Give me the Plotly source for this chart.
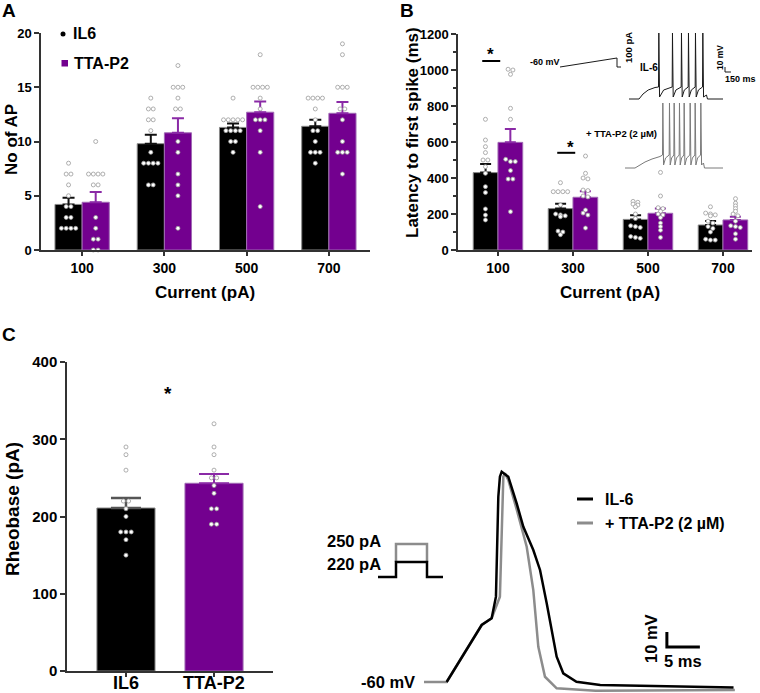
import plotly.graph_objects as go

# ---------------- data ----------------
currents = ["100", "300", "500", "700"]

# Panel A: number of action potentials
ap_il6_mean = [4.2, 9.8, 11.3, 11.4]
ap_il6_sem = [0.62, 0.83, 0.37, 0.6]
ap_tta_mean = [4.4, 10.8, 12.7, 12.6]
ap_tta_sem = [0.95, 1.35, 0.98, 1.04]
ap_il6_points = [[8, 7, 7, 6, 5, 4, 4, 3, 3, 2, 2, 2, 2],
                 [14, 13, 13, 12, 12, 11, 9, 8, 8, 8, 8, 6, 6],
                 [14, 12, 12, 12, 12, 12, 11, 11, 11, 11, 10, 10, 9],
                 [14, 14, 14, 14, 13, 12, 11, 11, 10, 9, 9, 9, 8]]
ap_tta_points = [[10, 7, 7, 7, 7, 6, 6, 3, 2, 1, 1, 0, 0],
                 [17, 15, 15, 15, 14, 13, 13, 10, 9, 7, 6, 5, 2],
                 [18, 15, 15, 15, 15, 14, 13, 12, 12, 12, 11, 9, 4],
                 [19, 18, 15, 15, 15, 13, 13, 12, 10, 9, 9, 9, 7]]

# Panel B: latency to first spike (ms)
lat_il6_mean = [430, 230, 170, 139]
lat_il6_sem = [48, 27, 23, 22]
lat_tta_mean = [598, 293, 204, 167]
lat_tta_sem = [74, 33, 26, 18]
lat_il6_points = [[726, 611, 574, 541, 500, 500, 463, 426, 352, 319, 228, 194, 167],
                  [374, 324, 324, 324, 324, 250, 200, 195, 190, 185, 105, 100, 85],
                  [270, 265, 255, 250, 240, 200, 175, 135, 130, 125, 75, 70, 65],
                  [240, 205, 200, 195, 190, 160, 150, 130, 120, 100, 60, 55, 55]]
lat_tta_points = [[1004, 1000, 976, 787, 726, 504, 491, 491, 441, 394, 394, 213],
                  [522, 426, 400, 395, 333, 330, 300, 295, 222, 205, 194, 122],
                  [431, 300, 235, 230, 215, 200, 195, 180, 150, 130, 110, 70],
                  [285, 260, 245, 230, 215, 200, 190, 160, 135, 130, 125, 90, 60]]
sig_b_level = [1050, 540]      # ms, significance bars
sig_b_group = [0, 1]

# Panel C: rheobase (pA)
rheo_groups = ["IL6", "TTA-P2"]
rheo_mean = [211, 243]
rheo_sem = [13, 12]
rheo_points = [[290, 280, 260, 220, 220, 210, 200, 180, 180, 180, 170, 150],
               [320, 290, 280, 260, 250, 250, 240, 230, 210, 210, 190, 190]]

# Inset (panel B): spike trains (ms, mV)
il6_pre_t = [0, 250, 350, 480, 650, 720]
il6_pre_v = [-60, -60, -50, -42, -37, -35]
il6_spike_t = [742, 1083, 1308, 1483, 1658, 1842]
il6_peak, il6_trough, il6_thr = 72, -56, -36
il6_step_end, train_end = 1937, 2350
tta_pre_t = [-100, 150, 400, 575, 775]
tta_pre_v = [-60, -60, -48, -42, -37]
tta_spike_t = [842, 1008, 1125, 1258, 1375, 1525, 1650, 1792]
tta_peak, tta_trough, tta_thr = 70, -54, -34
tta_step_end = 1862
tta_offset = -138
ramp_t = [-1725, -300, -300, -200]
ramp_pA = [0, 100, 0, 0]

# Panel D: single action potentials (ms, mV)
ap_gray_t = [0, 3.43, 8.74, 10.25, 11.5, 11.87, 12.02, 12.27, 12.77, 14.04, 15.56, 16.56, 17.32, 18.33, 20.1, 26.0, 47.1]
ap_gray_v = [-60, -60, -22, -17.5, -3.1, 63.5, 76.9, 79.1, 74.7, 55, 30.2, 1.3, -36.5, -56.5, -64.2, -65.8, -65.3]
ap_black_t = [3.43, 8.74, 10.25, 10.9, 11.26, 11.5, 11.77, 12.77, 14.04, 15.05, 16.56, 17.58, 18.59, 19.35, 20.1, 21.1, 23.1, 26.7, 46.9]
ap_black_v = [-60, -22, -17.5, -3.1, 63.5, 76.9, 80.2, 76.9, 59.1, 43.5, 28, 14.7, -7.5, -25.3, -43.1, -54.2, -59.8, -62, -63.6]

# ---------------- helpers ----------------
W, H = 760, 693
FONT = "Liberation Sans"
BLACK = "#000000"
PURPLE = "#73008f"
PURPLE_ERR = "#8a2aa6"
GRAY_TRACE = "#8c8c8c"


def px(x):
    return x / W


def py(y):
    return 1 - y / H


def swarm(values, center, spacing, tol):
    vals = sorted(values, reverse=True)
    groups = []
    for v in vals:
        if groups and abs(groups[-1][0] - v) <= tol:
            groups[-1].append(v)
        else:
            groups.append([v])
    xs, ys = [], []
    for g in groups:
        k = len(g)
        for i, v in enumerate(g):
            xs.append(center + (i - (k - 1) / 2) * spacing)
            ys.append(v)
    return xs, ys


def build_train(pre_t, pre_v, spikes, peak, trough, thr, step_end, rest, t_end):
    t, v = list(pre_t), list(pre_v)
    for i, ts in enumerate(spikes):
        t += [ts - 4, ts + 4, ts + 22]
        v += [thr, peak, trough]
        if i + 1 < len(spikes):
            gap = spikes[i + 1] - ts
            t += [ts + 22 + 0.3 * gap, spikes[i + 1] - 10]
            v += [thr - 6, thr]
    t += [step_end, step_end + 25, t_end]
    v += [trough + 4, rest, rest]
    return t, v


fig = go.Figure()

pt_marker = dict(size=4, color="white", line=dict(color="#9a9a9a", width=0.8))

# ---------------- Panel A ----------------
fig.add_bar(x=[0, 1, 2, 3], y=ap_il6_mean, xaxis="x", yaxis="y",
            marker=dict(color=BLACK, line=dict(color="#8a8a8a", width=1)),
            error_y=dict(type="data", array=ap_il6_sem, arrayminus=[0] * 4, symmetric=False,
                         color="#111111", thickness=2, width=6))
fig.add_bar(x=[0, 1, 2, 3], y=ap_tta_mean, xaxis="x", yaxis="y",
            marker=dict(color=PURPLE, line=dict(color="#a06ab4", width=1)),
            error_y=dict(type="data", array=ap_tta_sem, arrayminus=[0] * 4, symmetric=False,
                         color=PURPLE_ERR, thickness=2, width=6))
for i in range(4):
    for pts, off in ((ap_il6_points[i], -0.165), (ap_tta_points[i], 0.165)):
        xs, ys = swarm(pts, i + off, 0.058, 0.1)
        fig.add_scatter(x=xs, y=ys, mode="markers", marker=pt_marker, xaxis="x", yaxis="y",
                        cliponaxis=False, hoverinfo="skip")

# ---------------- Panel B ----------------
fig.add_bar(x=[0, 1, 2, 3], y=lat_il6_mean, xaxis="x2", yaxis="y2",
            marker=dict(color=BLACK, line=dict(color="#8a8a8a", width=1)),
            error_y=dict(type="data", array=lat_il6_sem, arrayminus=[0] * 4, symmetric=False,
                         color="#111111", thickness=2, width=5.5))
fig.add_bar(x=[0, 1, 2, 3], y=lat_tta_mean, xaxis="x2", yaxis="y2",
            marker=dict(color=PURPLE, line=dict(color="#a06ab4", width=1)),
            error_y=dict(type="data", array=lat_tta_sem, arrayminus=[0] * 4, symmetric=False,
                         color=PURPLE_ERR, thickness=2, width=5.5))
for i in range(4):
    for pts, off in ((lat_il6_points[i], -0.167), (lat_tta_points[i], 0.167)):
        xs, ys = swarm(pts, i + off, 0.064, 14)
        fig.add_scatter(x=xs, y=ys, mode="markers", marker=pt_marker, xaxis="x2", yaxis="y2",
                        cliponaxis=False, hoverinfo="skip")
for g, lvl in zip(sig_b_group, sig_b_level):
    fig.add_scatter(x=[g - 0.21, g + 0.03], y=[lvl, lvl], mode="lines",
                    line=dict(color="black", width=2), xaxis="x2", yaxis="y2", hoverinfo="skip")

# Inset spike trains (panel B)
t1, v1 = build_train(il6_pre_t, il6_pre_v, il6_spike_t, il6_peak, il6_trough, il6_thr,
                     il6_step_end, -60, train_end)
fig.add_scatter(x=t1, y=v1, mode="lines", line=dict(color="#1a1a1a", width=1),
                xaxis="x4", yaxis="y4", hoverinfo="skip")
t2, v2 = build_train(tta_pre_t, tta_pre_v, tta_spike_t, tta_peak, tta_trough, tta_thr,
                     tta_step_end, -60, train_end)
fig.add_scatter(x=t2, y=[v + tta_offset for v in v2], mode="lines",
                line=dict(color="#7a7a7a", width=1), xaxis="x4", yaxis="y4", hoverinfo="skip")
# ramp stimulus (100 pA <-> 18 display units, baseline at 4)
fig.add_scatter(x=ramp_t, y=[4 + a * 0.18 for a in ramp_pA], mode="lines",
                line=dict(color="#1a1a1a", width=1), xaxis="x4", yaxis="y4", hoverinfo="skip")
# scale bar 10 mV / 150 ms
fig.add_scatter(x=[2400, 2400, 2550], y=[4, -6, -6], mode="lines",
                line=dict(color="#1a1a1a", width=1), xaxis="x4", yaxis="y4", hoverinfo="skip")

# ---------------- Panel C ----------------
fig.add_bar(x=[0], y=[rheo_mean[0]], xaxis="x3", yaxis="y3", offsetgroup="c",
            marker=dict(color=BLACK, line=dict(color="#8a8a8a", width=1)),
            error_y=dict(type="data", array=[rheo_sem[0]], arrayminus=[0], symmetric=False,
                         color="#555555", thickness=2.5, width=15))
fig.add_bar(x=[1], y=[rheo_mean[1]], xaxis="x3", yaxis="y3", offsetgroup="c",
            marker=dict(color=PURPLE, line=dict(color="#a06ab4", width=1)),
            error_y=dict(type="data", array=[rheo_sem[1]], arrayminus=[0], symmetric=False,
                         color=PURPLE_ERR, thickness=2, width=15))
for i in range(2):
    xs, ys = swarm(rheo_points[i], i, 0.06, 3)
    fig.add_scatter(x=xs, y=ys, mode="markers", marker=pt_marker, xaxis="x3", yaxis="y3",
                    cliponaxis=False, hoverinfo="skip")

# ---------------- Panel D ----------------
fig.add_scatter(x=ap_gray_t, y=ap_gray_v, mode="lines", line=dict(color=GRAY_TRACE, width=2.5),
                xaxis="x5", yaxis="y5", hoverinfo="skip")
fig.add_scatter(x=ap_black_t, y=ap_black_v, mode="lines", line=dict(color="black", width=2.5),
                xaxis="x5", yaxis="y5", hoverinfo="skip")
sb_t0, sb_v0, sb_dt, sb_dv = 36.8, -36.7, 5, 10
fig.add_scatter(x=[sb_t0, sb_t0, sb_t0 + sb_dt], y=[sb_v0 + sb_dv, sb_v0, sb_v0], mode="lines",
                line=dict(color="black", width=3), xaxis="x5", yaxis="y5", hoverinfo="skip")

# ---------------- layout ----------------
axis_line = dict(showline=True, linecolor="#333333", linewidth=1.5, showgrid=False,
                 zeroline=False, ticks="outside", tickcolor="#333333", tickwidth=1.5,
                 automargin=False)


def tfont(size):
    return dict(family=FONT, size=size, color="black", weight="bold")


hidden = dict(visible=False, showgrid=False, zeroline=False, fixedrange=True, automargin=False)

layout = dict(
    template="none",
    width=W, height=H, margin=dict(l=0, r=0, t=0, b=0, pad=0, autoexpand=False),
    paper_bgcolor="white", plot_bgcolor="rgba(0,0,0,0)",
    showlegend=False, barmode="group", bargap=0.34, bargroupgap=0,
    font=dict(family=FONT, color="black"),
    xaxis=dict(domain=[px(41), px(370)], range=[-0.5, 3.5], tickvals=[0, 1, 2, 3],
               ticktext=currents, ticklen=4, tickfont=tfont(14), anchor="y", **axis_line),
    yaxis=dict(domain=[py(250), py(33)], range=[0, 20], dtick=5, ticklen=5,
               tickfont=tfont(13), anchor="x", **axis_line),
    xaxis2=dict(domain=[px(458), px(752)], range=[-0.533, 3.387], tickvals=[0, 1, 2, 3],
                ticktext=currents, ticklen=4, tickfont=tfont(14), anchor="y2", **axis_line),
    yaxis2=dict(domain=[py(250), py(34)], range=[0, 1200], dtick=200, ticklen=5,
                tickfont=tfont(13), anchor="x2",
                minor=dict(dtick=100, ticklen=3, ticks="outside", tickcolor="#333333"),
                **axis_line),
    xaxis3=dict(domain=[px(67), px(273)], range=[-0.67, 1.67], tickvals=[0, 1],
                showticklabels=False, ticklen=4, anchor="y3", **axis_line),
    yaxis3=dict(domain=[py(671), py(362)], range=[0, 400], dtick=100, ticklen=5,
                tickfont=tfont(15), anchor="x3", **axis_line),
    xaxis4=dict(domain=[px(520), 1], range=[-2725, 3275], anchor="y4", **hidden),
    yaxis4=dict(domain=[py(185), py(25)], range=[-232, 88], anchor="x4", **hidden),
    xaxis5=dict(domain=[px(300), 1], range=[-18.79, 50.91], anchor="y5", **hidden),
    yaxis5=dict(domain=[0, py(440)], range=[-67.33, 101.33], anchor="x5", **hidden),
)

anns = []


def ann(text, x, y, size, xanchor="center", yanchor="middle", angle=0, color="black",
        xref="paper", yref="paper"):
    anns.append(dict(text=text, x=px(x) if xref == "paper" else x, y=py(y) if yref == "paper" else y,
                     xref=xref, yref=yref, showarrow=False,
                     xanchor=xanchor, yanchor=yanchor, textangle=angle,
                     font=dict(family=FONT, size=size, color=color, weight="bold")))


# panel letters
ann("A", 9, 11, 19)
ann("B", 407, 11, 19)
ann("C", 9, 334, 19)
# axis titles
ann("No of AP", 12, 140, 17, angle=-90)
ann("Current (pA)", 205, 292, 17)
ann("Latency to first spike (ms)", 412, 133, 17, angle=-90)
ann("Current (pA)", 610, 292, 17)
ann("Rheobase (pA)", 12, 509, 19, angle=-90)
# category labels panel C (on data x positions)
for i, g in enumerate(rheo_groups):
    ann(g, i, 683, 18, xref="x3")
# legend A
ann("IL6", 71, 34, 16, xanchor="left")
ann("TTA-P2", 72, 63, 16, xanchor="left")
# stars
ann("*", 490, 55, 17)
ann("*", 570, 147, 17)
ann("*", 168, 393, 19)
# inset B texts
ann("-60 mV", 545, 62, 9)
ann("100 pA", 629, 48, 9.5, angle=-90)
ann("IL-6", 649, 67, 10)
ann("+ TTA-P2 (2 µM)", 621, 133, 9.5)
ann("10 mV", 720, 58, 8.5, angle=-90)
ann("150 ms", 740, 79, 9)
# panel D texts
ann("IL-6", 603, 499, 16, xanchor="left")
ann("+ TTA-P2 (2 µM)", 603, 523, 16, xanchor="left")
ann("250 pA", 383, 541, 16.5, xanchor="right")
ann("220 pA", 383, 564, 16.5, xanchor="right")
ann("-60 mV", 417, 682, 16.5, xanchor="right")
ann("10 mV", 651, 639, 16.5, angle=-90)
ann("5 ms", 683, 661, 16.5)

layout["annotations"] = anns


def seg(x0, y0, x1, y1, color, width):
    return dict(type="line", xref="paper", yref="paper", x0=px(x0), y0=py(y0),
                x1=px(x1), y1=py(y1), line=dict(color=color, width=width))


def path(points, color, width):
    d = "M" + " L".join(f"{px(x):.5f},{py(y):.5f}" for x, y in points)
    return dict(type="path", xref="paper", yref="paper", path=d,
                line=dict(color=color, width=width))


shapes = [
    # legend A markers
    dict(type="circle", xref="paper", yref="paper", x0=px(60.5), x1=px(65.5), y0=py(36.5),
         y1=py(31.5), fillcolor="black", line=dict(width=0)),
    dict(type="rect", xref="paper", yref="paper", x0=px(61.5), x1=px(68), y0=py(66.5),
         y1=py(60), fillcolor=PURPLE, line=dict(width=0)),
    # legend D lines
    seg(577, 499, 593, 499, "black", 3),
    seg(577, 523, 593, 523, GRAY_TRACE, 3),
    # stimulus icon D
    path([(396, 562), (396, 544), (427, 544), (427, 562)], GRAY_TRACE, 2.5),
    path([(378, 577), (396, 577), (396, 562), (427, 562), (427, 577), (443, 577)], "black", 2.5),
]
layout["shapes"] = shapes

fig.update_layout(**layout)
fig.write_html("out.html", config={"displayModeBar": False},
               post_script="document.body.style.margin='0px';")
